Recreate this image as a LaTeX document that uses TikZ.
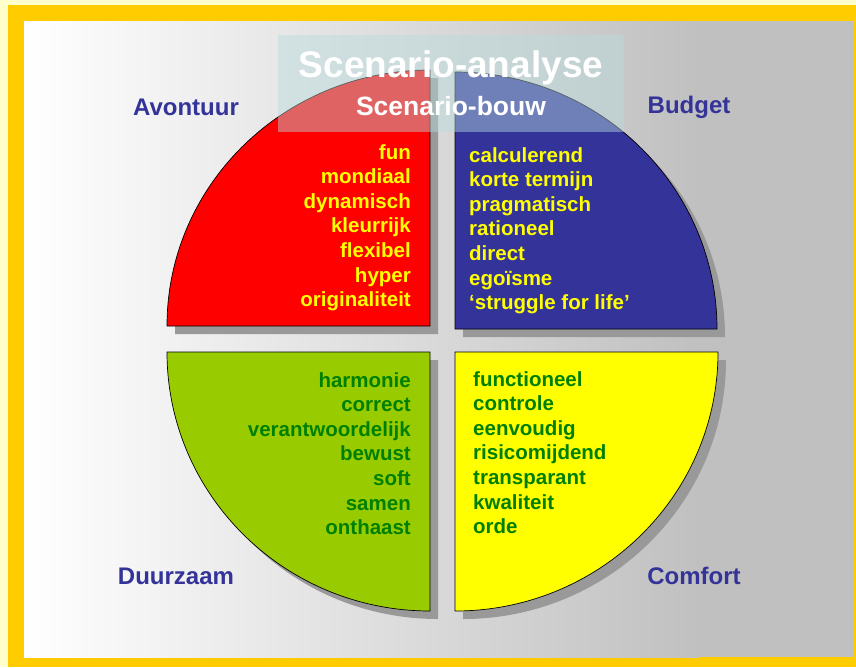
\documentclass[tikz,border=0pt]{standalone}
\usepackage{fontspec}
\setmainfont{Liberation Sans}
\usetikzlibrary{shadows}
\definecolor{paleyellow}{RGB}{255,255,204}
\definecolor{frameorange}{RGB}{255,204,0}
\definecolor{panelgray}{RGB}{192,192,192}
\definecolor{pienavy}{RGB}{51,51,153}
\definecolor{pielime}{RGB}{153,204,0}
\definecolor{pieyellow}{RGB}{255,255,0}
\definecolor{listgreen}{RGB}{0,128,0}
\definecolor{titlecyan}{RGB}{185,220,220}
\tikzset{
  quarter/.style={draw=black, line width=0.7pt,
    drop shadow={shadow xshift=8pt, shadow yshift=-8pt, fill=black!40, opacity=1}},
  corner/.style={text=pienavy, font=\fontsize{24}{28}\selectfont\bfseries},
  wordlist/.style={inner sep=0pt, font=\fontsize{20.5}{24.6}\selectfont\bfseries},
}
\begin{document}
\begin{tikzpicture}[x=1pt,y=1pt]
  \useasboundingbox (0,0) rectangle (856,-667);
  \fill[paleyellow] (0,0) rectangle (856,-667);
  \fill[frameorange] (8,-5) rectangle (856,-667);
  \fill[panelgray] (24,-21) rectangle (854,-657);
  \shade[left color=white, right color=panelgray] (24,-21) rectangle (700,-657);
  % pie quarters
  \filldraw[quarter, fill=red] (430,-326) -- (167,-326)
    arc[start angle=180, end angle=90, x radius=263, y radius=256] -- cycle;
  \filldraw[quarter, fill=pienavy] (455,-329) -- (455,-72)
    arc[start angle=90, end angle=0, x radius=262, y radius=257] -- cycle;
  \filldraw[quarter, fill=pielime] (430,-352) -- (167,-352)
    arc[start angle=180, end angle=270, x radius=263, y radius=259] -- cycle;
  \filldraw[quarter, fill=pieyellow] (455,-352) -- (718,-352)
    arc[start angle=0, end angle=-90, x radius=263, y radius=259] -- cycle;
  \node[wordlist, text=pieyellow, align=right, anchor=north east] (avlist) at (411,-144)
    {fun\\mondiaal\\dynamisch\\kleurrijk\\flexibel\\hyper\\originaliteit};
  \node[wordlist, text=pieyellow, align=left, anchor=north west] (bulist) at (469,-147)
    {calculerend\\korte termijn\\pragmatisch\\rationeel\\direct\\egoïsme\\‘struggle for life’};
  \node[wordlist, text=listgreen, align=right, anchor=north east] (dulist) at (411,-372)
    {harmonie\\correct\\verantwoordelijk\\bewust\\soft\\samen\\onthaast};
  \node[wordlist, text=listgreen, align=left, anchor=north west] (colist) at (473,-371)
    {functioneel\\controle\\eenvoudig\\risicomijdend\\transparant\\kwaliteit\\orde};
  \node[corner] (avontuur) at (186,-107) {Avontuur};
  \node[corner] (budget) at (689,-107) {Budget};
  \node[corner] (duurzaam) at (176,-576) {Duurzaam};
  \node[corner] (comfort) at (694,-576) {Comfort};
  % title band
  \fill[titlecyan, opacity=0.45] (278,-35) rectangle (624,-132);
  \node[text=white, font=\fontsize{37}{40}\selectfont\bfseries] (titel) at (451,-68) {Scenario-analyse};
  \node[text=white, font=\fontsize{26.5}{30}\selectfont\bfseries] (bouw) at (451,-106) {Scenario-bouw};
\end{tikzpicture}
\end{document}
